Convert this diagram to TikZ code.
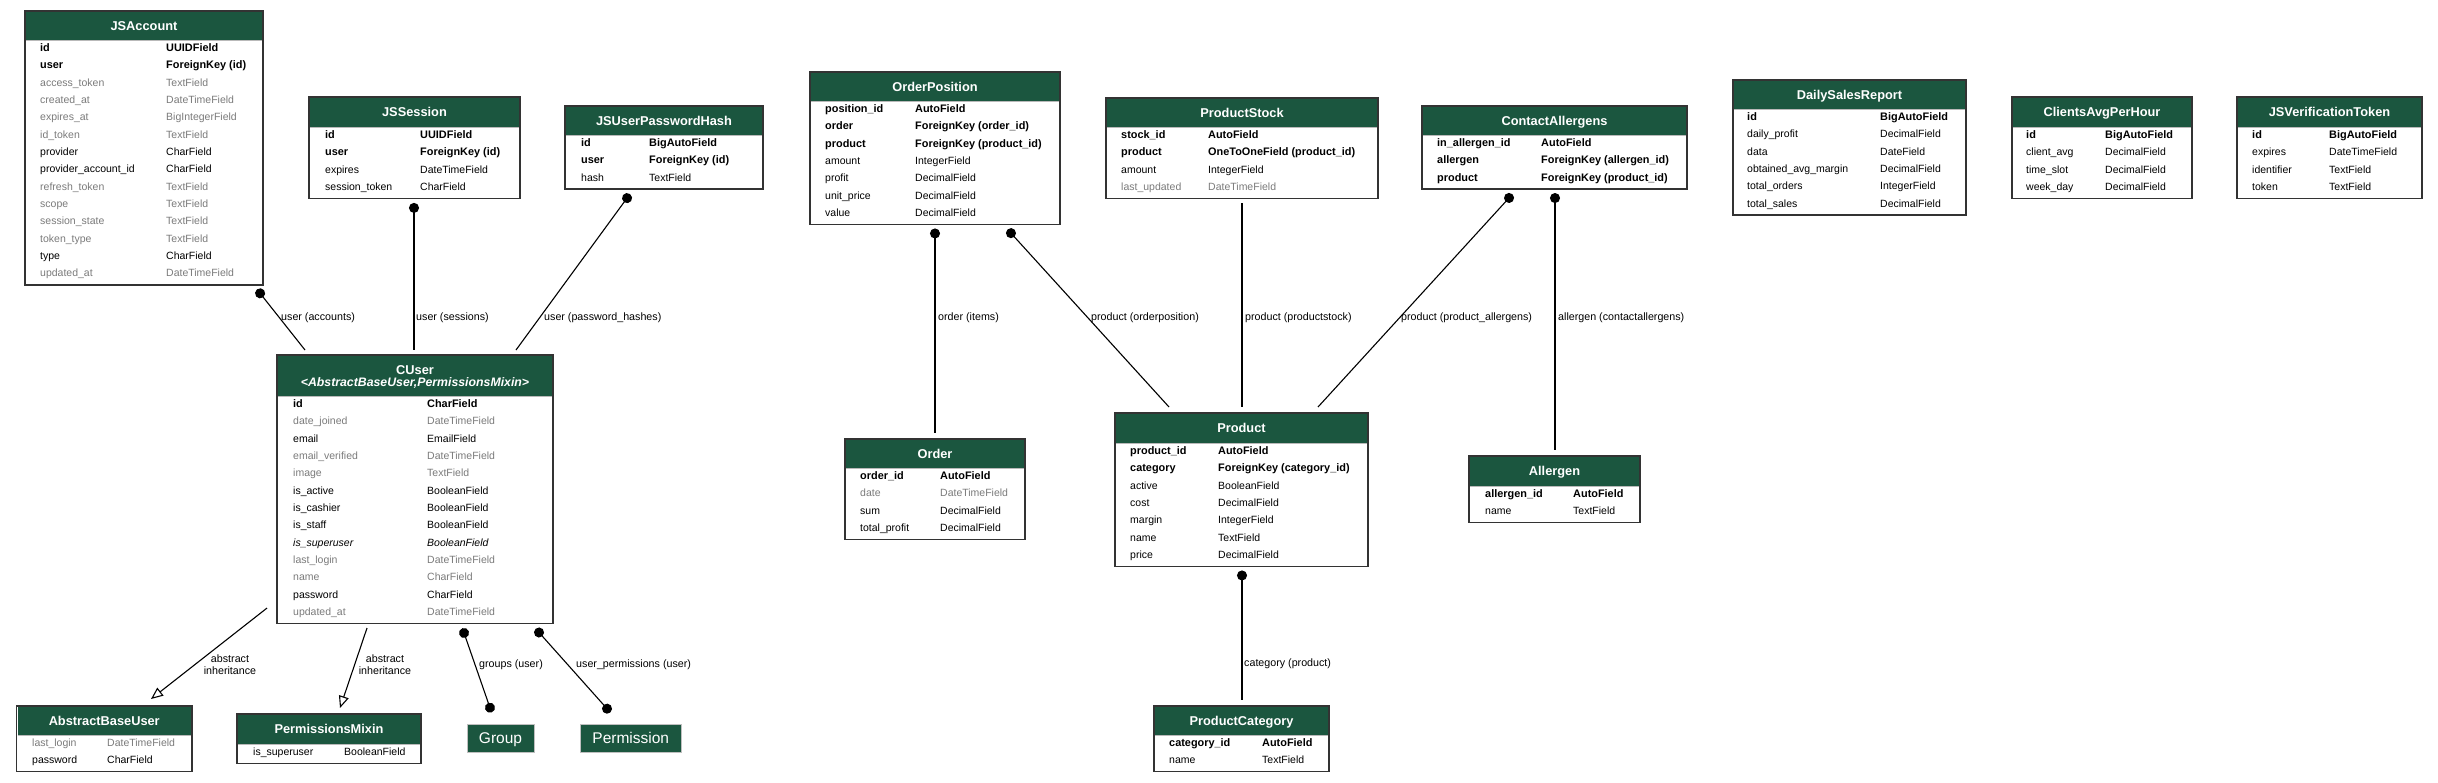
\documentclass[tikz,border=0pt]{standalone}
\usepackage{fontspec}
\setmainfont{Liberation Sans}
\usepackage{tikz}
\usetikzlibrary{arrows.meta,calc}

\definecolor{hdrgreen}{HTML}{1B563F}
\definecolor{fieldgray}{HTML}{7B7B7B}

\newcommand{\fieldfont}{\fontsize{10.5}{12}\selectfont}
\newcommand{\keyfont}{\fontsize{10.9}{12}\selectfont\bfseries}
\newcommand{\titlefont}{\fontsize{12.8}{13}\selectfont\bfseries}
\newcommand{\labelfont}{\fontsize{10.7}{12}\selectfont}

\tikzset{
  tablebox/.style={draw=black!80, line width=1.4pt, inner sep=0pt, outer sep=0pt, anchor=north west},
  headfill/.style={fill=hdrgreen},
  headrule/.style={draw=gray!55, line width=0.6pt},
  modeltitle/.style={text=white, font=\titlefont, anchor=base, inner sep=0pt},
  field/.style={anchor=base west, inner sep=0pt, font=\fieldfont},
  keyfield/.style={font=\keyfont},
  plainfield/.style={},
  blankfield/.style={text=fieldgray},
  absfield/.style={font=\fieldfont\itshape},
  extmodel/.style={fill=hdrgreen, draw=gray!50, line width=0.6pt, text=white,
    font=\fontsize{15.5}{16}\selectfont, minimum height=28pt, inner xsep=12pt, inner ysep=0pt,
    text height=11.1pt, text depth=0pt},
  rel/.style={line width=1.1pt, black},
  fk/.style={rel, {Circle[length=10pt]}-},
  fkboth/.style={rel, {Circle[length=10pt]}-{Circle[length=10pt]}},
  inherit/.style={rel, -{Triangle[open, length=12pt, width=10pt]}},
  elabel/.style={anchor=west, inner sep=0pt, font=\labelfont}
}

% #1 name, #2 left, #3 top, #4 width, #5 header height, #6 name column, #7 type column, #8 title, #9 rows
\newcommand{\modeltable}[9]{%
  \pgfmathsetmacro{\hdrbot}{#3+#5}
  \fill[headfill] (#2+1,#3+1) rectangle (#2+#4-1,\hdrbot);
  \draw[headrule] (#2+1,\hdrbot) -- (#2+#4-1,\hdrbot);
  \node[modeltitle] (#1-title) at (#2+#4/2,#3+19.1) {#8};
  \foreach \rowstyle/\rowname/\rowtype [count=\rowno] in {#9} {
    \pgfmathsetmacro{\rowy}{\hdrbot+11.3+(\rowno-1)*17.35}
    \node[field,\rowstyle] (#1-n\rowno) at (#2+#6,\rowy) {\rowname};
    \node[field,\rowstyle] (#1-t\rowno) at (#2+#7,\rowy) {\rowtype};
    \xdef\nrows{\rowno}
  }
  \pgfmathsetmacro{\boxh}{#5+\nrows*17.35+2}
  \node[tablebox, minimum width=#4pt, minimum height=\boxh pt] (#1) at (#2,#3) {};
}

\begin{document}
\begin{tikzpicture}[x=1pt,y=-1pt]
\fill[white] (0,0) rectangle (2438,782);
\useasboundingbox (0,0) rectangle (2438,782);

% user side
\modeltable{jsaccount}{25}{11}{238}{29}{15}{141}{JSAccount}{%
  keyfield/id/UUIDField,
  keyfield/user/ForeignKey (id),
  blankfield/access\_token/TextField,
  blankfield/created\_at/DateTimeField,
  blankfield/expires\_at/BigIntegerField,
  blankfield/id\_token/TextField,
  plainfield/provider/CharField,
  plainfield/provider\_account\_id/CharField,
  blankfield/refresh\_token/TextField,
  blankfield/scope/TextField,
  blankfield/session\_state/TextField,
  blankfield/token\_type/TextField,
  plainfield/type/CharField,
  blankfield/updated\_at/DateTimeField}
\modeltable{jssession}{309}{97}{211}{30}{16}{111}{JSSession}{%
  keyfield/id/UUIDField,
  keyfield/user/ForeignKey (id),
  plainfield/expires/DateTimeField,
  plainfield/session\_token/CharField}
\modeltable{jsuph}{565}{106}{198}{29}{16}{84}{JSUserPasswordHash}{%
  keyfield/id/BigAutoField,
  keyfield/user/ForeignKey (id),
  plainfield/hash/TextField}
\modeltable{cuser}{277}{355}{276}{41}{16}{150}{CUser}{%
  keyfield/id/CharField,
  blankfield/date\_joined/DateTimeField,
  plainfield/email/EmailField,
  blankfield/email\_verified/DateTimeField,
  blankfield/image/TextField,
  plainfield/is\_active/BooleanField,
  plainfield/is\_cashier/BooleanField,
  plainfield/is\_staff/BooleanField,
  absfield/is\_superuser/BooleanField,
  blankfield/last\_login/DateTimeField,
  blankfield/name/CharField,
  plainfield/password/CharField,
  blankfield/updated\_at/DateTimeField}
\node[modeltitle, font=\fontsize{12.3}{13}\selectfont\bfseries\itshape] (cuser-parents) at (415,386.5) {<AbstractBaseUser,PermissionsMixin>};
\modeltable{abstractbaseuser}{16.5}{706}{175.5}{29}{15.5}{90.5}{AbstractBaseUser}{%
  blankfield/last\_login/DateTimeField,
  plainfield/password/CharField}
\modeltable{permissionsmixin}{237}{714}{184}{30}{16}{107}{PermissionsMixin}{%
  plainfield/is\_superuser/BooleanField}
\node[extmodel] (group) at (500.5,738) {Group};
\node[extmodel] (permission) at (630.75,738) {Permission};

% shop side
\modeltable{orderposition}{810}{72}{250}{29}{15}{105}{OrderPosition}{%
  keyfield/position\_id/AutoField,
  keyfield/order/ForeignKey (order\_id),
  keyfield/product/ForeignKey (product\_id),
  plainfield/amount/IntegerField,
  plainfield/profit/DecimalField,
  plainfield/unit\_price/DecimalField,
  plainfield/value/DecimalField}
\modeltable{productstock}{1106}{98}{272}{29}{15}{102}{ProductStock}{%
  keyfield/stock\_id/AutoField,
  keyfield/product/OneToOneField (product\_id),
  plainfield/amount/IntegerField,
  blankfield/last\_updated/DateTimeField}
\modeltable{contactallergens}{1422}{106}{265}{29}{15}{119}{ContactAllergens}{%
  keyfield/in\_allergen\_id/AutoField,
  keyfield/allergen/ForeignKey (allergen\_id),
  keyfield/product/ForeignKey (product\_id)}
\modeltable{order}{845}{439}{180}{29}{15}{95}{Order}{%
  keyfield/order\_id/AutoField,
  blankfield/date/DateTimeField,
  plainfield/sum/DecimalField,
  plainfield/total\_profit/DecimalField}
\modeltable{product}{1115}{413}{253}{30}{15}{103}{Product}{%
  keyfield/product\_id/AutoField,
  keyfield/category/ForeignKey (category\_id),
  plainfield/active/BooleanField,
  plainfield/cost/DecimalField,
  plainfield/margin/IntegerField,
  plainfield/name/TextField,
  plainfield/price/DecimalField}
\modeltable{allergen}{1469}{456}{171}{30}{16}{104}{Allergen}{%
  keyfield/allergen\_id/AutoField,
  plainfield/name/TextField}
\modeltable{productcategory}{1154}{706}{175}{29}{15}{108}{ProductCategory}{%
  keyfield/category\_id/AutoField,
  plainfield/name/TextField}

% stand-alone models
\modeltable{dailysalesreport}{1733}{80}{233}{29}{14}{147}{DailySalesReport}{%
  keyfield/id/BigAutoField,
  plainfield/daily\_profit/DecimalField,
  plainfield/data/DateField,
  plainfield/obtained\_avg\_margin/DecimalField,
  plainfield/total\_orders/IntegerField,
  plainfield/total\_sales/DecimalField}
\modeltable{clientsavgperhour}{2012}{97}{180}{30}{14}{93}{ClientsAvgPerHour}{%
  keyfield/id/BigAutoField,
  plainfield/client\_avg/DecimalField,
  plainfield/time\_slot/DecimalField,
  plainfield/week\_day/DecimalField}
\modeltable{jsverificationtoken}{2237}{97}{185}{30}{15}{92}{JSVerificationToken}{%
  keyfield/id/BigAutoField,
  plainfield/expires/DateTimeField,
  plainfield/identifier/TextField,
  plainfield/token/TextField}

% relations
\draw[fk] ($(jsaccount.south west)+(232,4.5)$) -- ($(cuser.north west)+(28,-5)$);
\draw[fk] ($(jssession.south west)+(105,4.5)$) -- ($(cuser.north west)+(137,-5)$);
\draw[fk] ($(jsuph.south west)+(65,5)$) -- ($(cuser.north west)+(239,-5)$);
\draw[fk] ($(orderposition.south west)+(125,4)$) -- ($(order.north west)+(90,-6)$);
\draw[fk] ($(orderposition.south west)+(197.6,5)$) -- ($(product.north west)+(54,-6)$);
\draw[rel] ($(productstock.south west)+(136,4.6)$) -- ($(product.north west)+(127,-6)$);
\draw[fk] ($(contactallergens.south west)+(90.4,5.2)$) -- ($(product.north west)+(203,-6)$);
\draw[fk] ($(contactallergens.south west)+(133,4)$) -- ($(allergen.north west)+(86,-6)$);
\draw[fk] ($(product.south west)+(127,4)$) -- ($(productcategory.north west)+(88,-6)$);
\draw[fkboth] ($(cuser.south west)+(185.4,4.7)$) -- ($(group.north)+(-8.9,-11.3)$);
\draw[fkboth] ($(cuser.south west)+(258.7,5.2)$) -- ($(permission.north)+(-20.4,-11.3)$);
\draw[inherit] ($(cuser.south west)+(-10,-15.5)$) -- ($(abstractbaseuser.north west)+(134.5,-7)$);
\draw[inherit] ($(cuser.south west)+(90,4.5)$) -- ($(permissionsmixin.north west)+(103,-6)$);

% relation labels
\node[elabel] (lab-accounts) at (281,318) {user (accounts)};
\node[elabel] (lab-sessions) at (416,318) {user (sessions)};
\node[elabel] (lab-hashes) at (544,318) {user (password\_hashes)};
\node[elabel] (lab-items) at (938,318) {order (items)};
\node[elabel] (lab-orderposition) at (1091,318) {product (orderposition)};
\node[elabel] (lab-productstock) at (1245,318) {product (productstock)};
\node[elabel] (lab-productallergens) at (1401,318) {product (product\_allergens)};
\node[elabel] (lab-contactallergens) at (1558,318) {allergen (contactallergens)};
\node[elabel, anchor=center, align=center] (lab-abstract1) at (230,665) {abstract\\inheritance};
\node[elabel, anchor=center, align=center] (lab-abstract2) at (385,665) {abstract\\inheritance};
\node[elabel] (lab-groups) at (479,665) {groups (user)};
\node[elabel] (lab-permissions) at (576,665) {user\_permissions (user)};
\node[elabel] (lab-category) at (1244,664) {category (product)};
\end{tikzpicture}
\end{document}
